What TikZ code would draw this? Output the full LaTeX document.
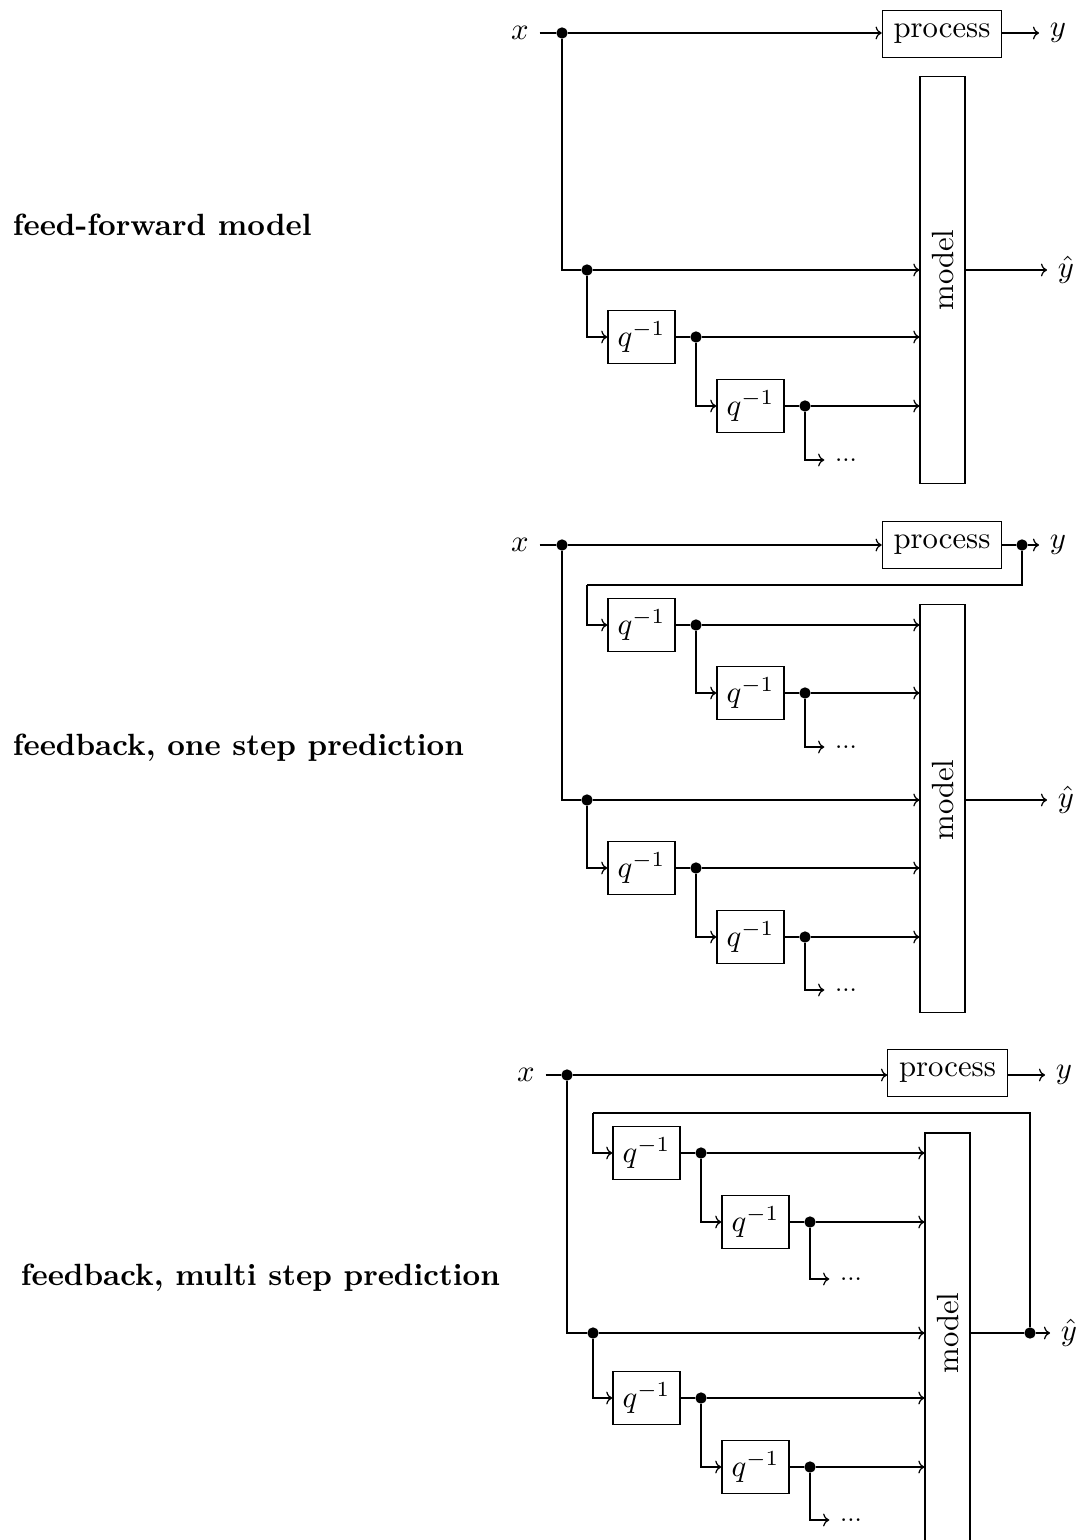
\documentclass[tikz,border=0pt]{standalone}
\usetikzlibrary{calc,arrows.meta}
\begin{document}
\begin{tikzpicture}[x=0.3257pt,y=-0.3257pt,
  box/.style={draw,inner sep=0pt,minimum width=21.85pt,minimum height=17.3pt},
  pbox/.style={draw,inner sep=0pt,minimum width=38.9pt,minimum height=15.5pt},
  mbox/.style={draw,inner sep=0pt,minimum width=14.6pt},
  dot/.style={circle,fill,inner sep=0pt,minimum size=3.7pt},
  lbl/.style={anchor=west,font=\bfseries},
  more/.style={font=\footnotesize},
  >={To[length=2pt,width=4.2pt]}]
\clip (0,0) rectangle (1079,1540);

% ---------------- labels
\node[lbl] (L1) at (2,225) {feed-forward model};
\node[lbl] (L2) at (2,748) {feedback, one step prediction};
\node[lbl] (L3) at (10,1278) {feedback, multi step prediction};

% ================= diagram 1
\node (x1) at (520,33) {$x$};
\node[dot] (a1) at (562,33) {};
\node[pbox] (p1) at (942,34) {process};
\node (y1) at (1058,33) {$y$};
\node[mbox,minimum height=132.4pt] (m1) at (942.5,280) {};
\node[rotate=90] (m1t) at (942.5,270) {model};
\node (h1) at (1066,270) {$\hat y$};
\node[dot] (b1) at (587,270) {};
\node[box] (q11) at (641.5,337) {$q^{-1}$};
\node[dot] (c1) at (696,337) {};
\node[box] (q12) at (750.5,406) {$q^{-1}$};
\node[dot] (d1) at (805,406) {};
\node[more] (e1) at (846,460) {...};

\draw (x1) -- (a1);
\draw[->] (a1) -- (a1 -| p1.west);
\draw[->] (p1.east |- y1) -- (y1);
\draw (a1) |- (b1);
\draw[->] (b1) -- (b1 -| m1.west);
\draw[->] (b1) |- (q11);
\draw (q11) -- (c1);
\draw[->] (c1) -- (c1 -| m1.west);
\draw[->] (c1) |- (q12);
\draw (q12) -- (d1);
\draw[->] (d1) -- (d1 -| m1.west);
\draw[->] (d1) |- (e1);
\draw[->] (m1.east |- h1) -- (h1);

% ================= diagram 2
\node (x2) at (520,545) {$x$};
\node[dot] (a2) at (562,545) {};
\node[pbox] (p2) at (942,545) {process};
\node[dot] (f2) at (1022,545) {};
\node (y2) at (1058,545) {$y$};
\coordinate (k2) at (587,585);
\node[mbox,minimum height=133.1pt] (m2) at (942.5,808.5) {};
\node[rotate=90] (m2t) at (942.5,800) {model};
\node (h2) at (1066,800) {$\hat y$};

\node[box] (q21) at (641.5,625) {$q^{-1}$};
\node[dot] (c2) at (696,625) {};
\node[box] (q22) at (750.5,693) {$q^{-1}$};
\node[dot] (d2) at (805,693) {};
\node[more] (e2) at (846,747) {...};

\node[dot] (b2) at (587,800) {};
\node[box] (q23) at (641.5,868) {$q^{-1}$};
\node[dot] (c3) at (696,868) {};
\node[box] (q24) at (750.5,937) {$q^{-1}$};
\node[dot] (d3) at (805,937) {};
\node[more] (e3) at (846,990) {...};

\draw (x2) -- (a2);
\draw[->] (a2) -- (p2);
\draw (p2) -- (f2);
\draw[->] (f2) -- (y2);
\draw (f2) |- (k2);
\draw[->] (k2) |- (q21);
\draw (q21) -- (c2);
\draw[->] (c2) -- (c2 -| m2.west);
\draw[->] (c2) |- (q22);
\draw (q22) -- (d2);
\draw[->] (d2) -- (d2 -| m2.west);
\draw[->] (d2) |- (e2);
\draw (a2) |- (b2);
\draw[->] (b2) -- (b2 -| m2.west);
\draw[->] (b2) |- (q23);
\draw (q23) -- (c3);
\draw[->] (c3) -- (c3 -| m2.west);
\draw[->] (c3) |- (q24);
\draw (q24) -- (d3);
\draw[->] (d3) -- (d3 -| m2.west);
\draw[->] (d3) |- (e3);
\draw[->] (m2.east |- h2) -- (h2);

% ================= diagram 3
\node (x3) at (526,1075) {$x$};
\node[dot] (a3) at (567,1075) {};
\node[pbox] (p3) at (947.5,1073) {process};
\node (y3) at (1064,1075) {$y$};
\node[mbox,minimum height=142pt] (m3) at (947.5,1351) {};
\node[rotate=90] (m3t) at (947.5,1333) {model};
\node[dot] (g3) at (1030,1333) {};
\node (h3) at (1069,1333) {$\hat y$};
\coordinate (k3) at (593,1113);

\node[box] (q31) at (646.5,1153) {$q^{-1}$};
\node[dot] (c4) at (701,1153) {};
\node[box] (q32) at (755.5,1222) {$q^{-1}$};
\node[dot] (d4) at (810,1222) {};
\node[more] (e4) at (851,1279) {...};

\node[dot] (b3) at (593,1333) {};
\node[box] (q33) at (646.5,1398) {$q^{-1}$};
\node[dot] (c5) at (701,1398) {};
\node[box] (q34) at (755.5,1467) {$q^{-1}$};
\node[dot] (d5) at (810,1467) {};
\node[more] (e5) at (851,1520) {...};

\draw (x3) -- (a3);
\draw[->] (a3) -- (a3 -| p3.west);
\draw[->] (p3.east |- y3) -- (y3);
\draw (m3.east |- g3) -- (g3);
\draw[->] (g3) -- (h3);
\draw (g3) |- (k3);
\draw[->] (k3) |- (q31);
\draw (q31) -- (c4);
\draw[->] (c4) -- (c4 -| m3.west);
\draw[->] (c4) |- (q32);
\draw (q32) -- (d4);
\draw[->] (d4) -- (d4 -| m3.west);
\draw[->] (d4) |- (e4);
\draw (a3) |- (b3);
\draw[->] (b3) -- (b3 -| m3.west);
\draw[->] (b3) |- (q33);
\draw (q33) -- (c5);
\draw[->] (c5) -- (c5 -| m3.west);
\draw[->] (c5) |- (q34);
\draw (q34) -- (d5);
\draw[->] (d5) -- (d5 -| m3.west);
\draw[->] (d5) |- (e5);
\end{tikzpicture}
\end{document}
